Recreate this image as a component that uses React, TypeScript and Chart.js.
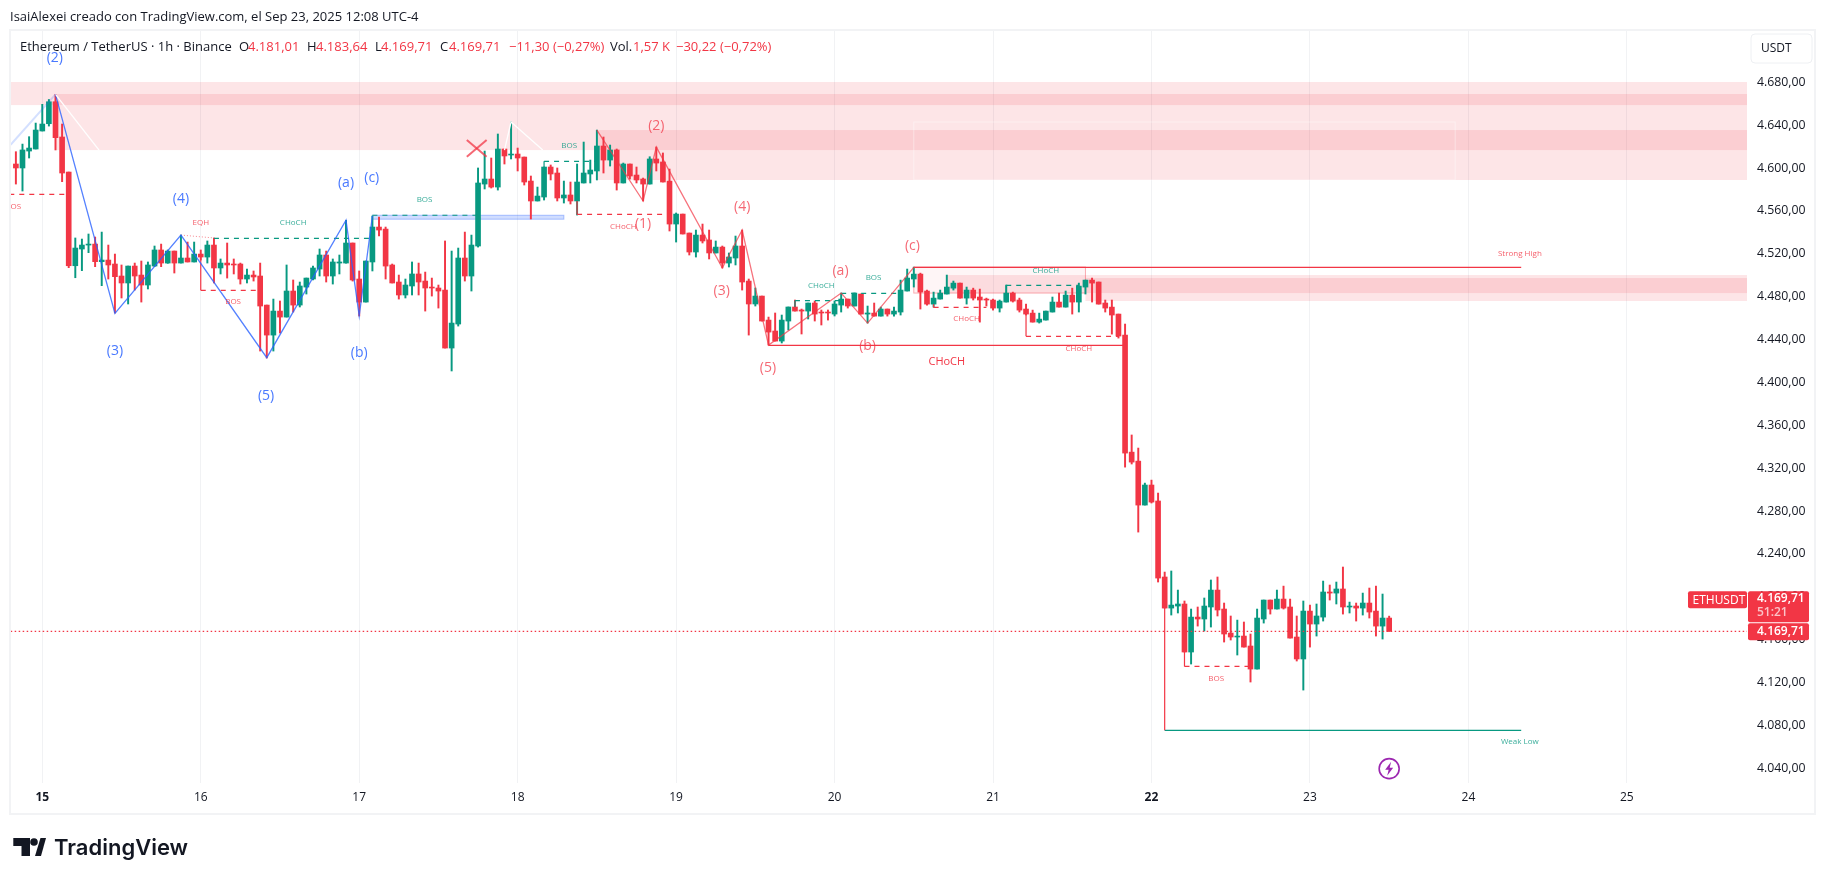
import React, { useEffect, useRef } from 'react';
import { Chart, registerables } from 'chart.js';

Chart.register(...registerables);

const FONT = '"Open Sans", sans-serif';
const RED = '#f23645';
const GREEN = '#089981';

// hour 0 is Sep 15 00:00, one candle per hour
const firstHour = -4;

const candleOpen = [
  4603.8, 4600.1, 4615.9, 4617.8, 4634.6, 4641.4, 4661.9, 4629, 4596.3, 4508.9,
  4524.5, 4528.2, 4529.1, 4512.7, 4514.2, 4510.5, 4499.3, 4492.8, 4508.6, 4500.2,
  4490.9, 4508.6, 4523.6, 4511.4, 4522.6, 4511.4, 4516.1, 4512.4, 4519.8, 4517,
  4528.2, 4506.8, 4511.4, 4510.5, 4510.5, 4496.5, 4500.2, 4499.3, 4472.2, 4444.2,
  4466.6, 4461, 4485.3, 4472.2, 4489, 4496.5, 4505.8, 4518.9, 4499.3, 4511.4,
  4511.4, 4530.1, 4496.5, 4475, 4512.4, 4545, 4543.1, 4509.6, 4493.7, 4481.6,
  4490, 4501.2, 4494.6, 4489, 4488.1, 4486.2, 4432.1, 4454.5, 4516.1, 4499.3,
  4527.3, 4585.1, 4589.8, 4582.3, 4617.8, 4612.2, 4613.1, 4610.3, 4587.9, 4569.3,
  4573, 4601, 4595.4, 4572.1, 4574.9, 4569.3, 4586.1, 4594.5, 4597.3, 4620.6,
  4607.5, 4616.9, 4586.1, 4603.8, 4593.5, 4589.8, 4585.1, 4608.5, 4605.7, 4587.9,
  4547.8, 4557.1, 4539.4, 4521.7, 4537.5, 4532.9, 4520.8, 4526.3, 4511.4, 4516.1,
  4527.3, 4494.6, 4473.2, 4480.6, 4458.2, 4448, 4438.6, 4457.3, 4470.4, 4467.6,
  4466.6, 4474.1, 4465.7, 4465.7, 4463.8, 4472.2, 4477.8, 4471.3, 4482.5, 4463.8,
  4464.7, 4461.9, 4468.5, 4463.8, 4465.7, 4485.3, 4496.5, 4501.1, 4485.3, 4473.1,
  4477.8, 4482.5, 4488, 4492.7, 4478.7, 4486.2, 4479.7, 4477.8, 4476.9, 4469.4,
  4475, 4483.4, 4476.9, 4468.5, 4464.7, 4456.3, 4458.2, 4465.7, 4475, 4470.3,
  4481.5, 4475, 4489, 4495.5, 4493.7, 4474.1, 4470.3, 4463.8, 4444.2, 4335,
  4326.6, 4285.6, 4304.3, 4289.4, 4218.5, 4189.5, 4191.4, 4193.3, 4148.5, 4181.1,
  4179.3, 4190.5, 4206.3, 4188.6, 4166.2, 4162.5, 4163.4, 4154.1, 4132.6, 4179.3,
  4197, 4188.6, 4197.9, 4190.5, 4162.5, 4142, 4186.7, 4174.6, 4181.1, 4204.5,
  4203.5, 4207.3, 4190.5, 4191.4, 4189.5, 4194.2, 4186.7, 4172.7, 4180.2,
];

const candleHigh = [
  4615.3, 4622.4, 4629.3, 4642, 4659.5, 4664, 4668.8, 4641.1, 4596.3, 4534.8,
  4533.8, 4538.5, 4535.7, 4540.3, 4528.2, 4519.8, 4509.6, 4508.6, 4511.4, 4513.3,
  4512.4, 4527.3, 4529.1, 4523.6, 4522.6, 4537.5, 4531, 4531, 4523.6, 4532,
  4534.8, 4515.2, 4530.1, 4515.2, 4511.4, 4505.8, 4504, 4511.4, 4472.2, 4477.8,
  4476, 4509.6, 4495.6, 4493.7, 4497.4, 4508.6, 4524.5, 4522.6, 4515.2, 4518.9,
  4551.2, 4530.1, 4504, 4513.3, 4555.3, 4554.3, 4545, 4510.5, 4500.2, 4496.5,
  4512.4, 4511.4, 4503, 4497.4, 4490.9, 4532, 4522.6, 4525.4, 4540.3, 4537.5,
  4600.1, 4615.9, 4609.4, 4631.8, 4617.8, 4643, 4618.7, 4610.3, 4592.6, 4582.3,
  4601, 4602.9, 4600.1, 4587.9, 4587, 4603.8, 4624.3, 4607.5, 4635.5, 4629,
  4621.5, 4617.8, 4604.7, 4603.8, 4601, 4590.7, 4610.6, 4619.6, 4614.1, 4599.1,
  4558.1, 4557.1, 4539.4, 4542.2, 4547.8, 4542.2, 4532, 4527.3, 4520.8, 4536.6,
  4542.2, 4496.5, 4488.1, 4480.6, 4461, 4464.8, 4462.9, 4470.4, 4476.9, 4468.5,
  4474.1, 4476, 4467.6, 4467.6, 4476, 4483.4, 4477.8, 4483.4, 4482.5, 4471.3,
  4474.1, 4470.3, 4468.5, 4470.3, 4495.5, 4505.8, 4507.6, 4502, 4486.2, 4484.3,
  4486.2, 4500.2, 4494.6, 4492.7, 4489, 4488, 4487.1, 4478.7, 4477.8, 4476.9,
  4490.9, 4484.3, 4478.7, 4473.1, 4467.5, 4464.7, 4466.6, 4479.7, 4483.4, 4485.3,
  4488, 4492.7, 4495.5, 4497.4, 4493.7, 4476.9, 4476.9, 4463.8, 4454.5, 4351,
  4338.8, 4306.1, 4308.9, 4296.8, 4223.1, 4224.1, 4206.3, 4196.1, 4188.6, 4190.5,
  4198.9, 4215.7, 4218.5, 4194.2, 4182.1, 4178.3, 4176.5, 4165.3, 4188.6, 4197,
  4197, 4206.3, 4210, 4197.9, 4182.1, 4196.1, 4192.3, 4193.3, 4214.7, 4211,
  4213.8, 4227.8, 4195.1, 4194.2, 4203.5, 4208.2, 4210, 4202.6, 4182,
];

const candleLow = [
  4585.1, 4578.6, 4609.4, 4617.8, 4634.6, 4639.2, 4616.9, 4587.3, 4507.1, 4497.7,
  4504.3, 4521.1, 4508, 4490.3, 4496.5, 4464.8, 4478.8, 4473.2, 4486.2, 4475,
  4487.2, 4508, 4508, 4511.1, 4502.1, 4511.4, 4512.4, 4512.4, 4514.2, 4511.4,
  4492.8, 4501.2, 4497.4, 4501.2, 4491.8, 4492.8, 4494.6, 4429.3, 4422.8, 4429.3,
  4446.1, 4461, 4465.7, 4470.4, 4482.5, 4495.6, 4499.3, 4493.7, 4491.8, 4501.2,
  4511.4, 4494.6, 4462, 4475, 4504, 4536.6, 4496.5, 4492.8, 4477.8, 4478.8,
  4481.6, 4481.6, 4466.6, 4480.6, 4469.4, 4432.1, 4410.7, 4452.6, 4494.6, 4485.3,
  4526.3, 4580.5, 4581.4, 4579.5, 4603.8, 4608.5, 4597.3, 4584.2, 4552.5, 4569.3,
  4570.2, 4588.9, 4569.3, 4567.4, 4566.5, 4556.2, 4586.1, 4586.1, 4588.9, 4595.4,
  4601.9, 4579.5, 4586.1, 4589.8, 4586.1, 4569.3, 4585.1, 4597.3, 4587, 4541.3,
  4531, 4538.5, 4518.9, 4517, 4530.1, 4515.2, 4520.8, 4506.8, 4507.7, 4509.6,
  4486.2, 4444.2, 4471.3, 4457.3, 4434.9, 4438.6, 4436.8, 4448.9, 4466.6, 4445.2,
  4459.2, 4457.3, 4453.6, 4458.2, 4462, 4465.7, 4469.4, 4471.3, 4463.8, 4455.4,
  4461.9, 4461.9, 4461.9, 4461.9, 4462.9, 4485.3, 4489, 4468.5, 4472.2, 4470.3,
  4477.8, 4482.5, 4486.2, 4478.7, 4473.1, 4476.9, 4456.3, 4471.3, 4467.5, 4465.7,
  4475, 4475, 4465.7, 4462.9, 4456.3, 4455.4, 4458.2, 4465.7, 4470.3, 4470.3,
  4463.8, 4465.7, 4482.5, 4475, 4473.1, 4465.7, 4445.1, 4441.4, 4321, 4323.9,
  4260.4, 4285.6, 4287.5, 4213.8, 4189.5, 4183, 4184.9, 4148.5, 4137.3, 4172.7,
  4168.1, 4171.8, 4182.1, 4157.8, 4159.7, 4145.7, 4153.1, 4120.5, 4132.6, 4175.5,
  4183.9, 4188.6, 4188.6, 4161.5, 4140.1, 4113, 4153.1, 4163.4, 4177.4, 4197,
  4193.3, 4183.9, 4184.9, 4177.4, 4183, 4180.2, 4163.4, 4160.6, 4167.8,
];

const candleClose = [
  4600.1, 4616.9, 4618.7, 4635.5, 4641.1, 4661.9, 4628.4, 4595.4, 4508.9, 4525.4,
  4528.2, 4529.1, 4512.7, 4514.2, 4509.6, 4498.7, 4492.8, 4508.6, 4499.3, 4490.9,
  4509.6, 4523.6, 4511.4, 4522.6, 4511.4, 4516.1, 4512.4, 4519.8, 4517, 4528.2,
  4506.8, 4511.4, 4509.6, 4509.6, 4496.5, 4500.2, 4498.4, 4471.3, 4444.2, 4466.6,
  4461, 4485.3, 4472.2, 4490, 4497.4, 4506.8, 4518.9, 4499.3, 4512.4, 4512.4,
  4530.1, 4495.6, 4475, 4513.3, 4545, 4542.2, 4508.6, 4492.8, 4481.6, 4490.9,
  4501.2, 4493.7, 4488.1, 4488.1, 4485.3, 4432.1, 4455.4, 4516.1, 4499.3, 4528.2,
  4586.1, 4589.8, 4582.3, 4617.8, 4611.3, 4613.1, 4609.4, 4587, 4569.3, 4573.9,
  4601, 4594.5, 4572.1, 4574.9, 4569.3, 4587, 4595.4, 4598.2, 4620.6, 4607.5,
  4616.9, 4586.1, 4603.8, 4592.6, 4588.9, 4585.1, 4608.5, 4604.7, 4587, 4547.8,
  4557.1, 4538.5, 4521.7, 4537.5, 4532, 4520.8, 4526.3, 4511.4, 4517, 4527.3,
  4493.7, 4473.2, 4480.6, 4457.3, 4447, 4438.6, 4458.2, 4470.4, 4466.6, 4466.6,
  4474.1, 4463.8, 4464.8, 4464.8, 4473.2, 4477.8, 4471.3, 4483.4, 4463.8, 4464.8,
  4461.9, 4468.5, 4463.8, 4466.6, 4486.2, 4497.4, 4501.1, 4484.3, 4473.1, 4478.7,
  4483.4, 4489, 4492.7, 4478.7, 4486.2, 4478.7, 4476.9, 4476.9, 4469.4, 4475.9,
  4483.4, 4475.9, 4467.5, 4463.8, 4456.3, 4459.1, 4466.6, 4475, 4470.3, 4481.5,
  4475, 4489.9, 4495.5, 4492.7, 4473.1, 4469.4, 4462.9, 4443.3, 4334.1, 4325.7,
  4285.6, 4304.3, 4288.4, 4217.5, 4189.5, 4192.3, 4193.3, 4148.5, 4181.1, 4179.3,
  4191.4, 4206.3, 4187.7, 4165.3, 4162.5, 4163.4, 4153.1, 4132.6, 4180.2, 4197,
  4188.6, 4197.9, 4189.5, 4161.5, 4142, 4186.7, 4174.6, 4182.1, 4204.5, 4203.5,
  4207.3, 4190.5, 4191.4, 4189.5, 4194.2, 4185.8, 4172.7, 4180.2, 4167.8,
];

const dayHours = [0, 24, 48, 72, 96, 120, 144, 168, 192, 216, 240];
const dayLabels = ['15', '16', '17', '18', '19', '20', '21', '22', '23', '24', '25'];
const mondayLabels = ['15', '22'];
const priceTicks = [
  4040, 4080, 4120, 4160, 4200, 4240, 4280, 4320, 4360, 4400, 4440, 4480, 4520, 4560, 4600, 4640, 4680,
];

// [hour, price] vertices of the drawings
const blueWave = [[2, 4668.8], [11, 4464.5], [21, 4537.5], [34, 4423.1], [46, 4551.3], [48, 4462], [50, 4555.3]];
const redWave = [
  [84, 4635.5], [91, 4569.3], [93, 4619.6], [103, 4506.8], [106, 4542.2], [110, 4434.9],
  [121, 4483.4], [125, 4455.4], [132, 4507.3],
];
const fadedBlueLeg = [[-4.8, 4621.8], [2, 4668.8]];
const whiteLegs = [
  [[2, 4668.8], [8.6, 4616.8]],
  [[70, 4616.8], [71, 4643], [75.8, 4616.8]],
];
const crossMark = [
  [[64.3, 4626.2], [67.3, 4610.6]],
  [[67.3, 4626.2], [64.3, 4610.6]],
];
const eqhLine = [[21, 4537.5], [26, 4534.8]];
const chochLine = [[110, 4434.6], [164, 4434.6]];
const strongHighLine = [[132, 4507.3], [224, 4507.3]];
const weakLowStem = [[170, 4189.5], [170, 4075.4]];
const weakLowLine = [[170, 4075.4], [224, 4075.4]];

// [startHour, endHour, price, price the short solid stem starts from]
const redDashes = [
  [-5, 3.7, 4575.5, 4575.5],
  [24, 32.5, 4486, 4517],
  [81, 95, 4556.8, 4569.3],
  [135, 143, 4470, 4473],
  [149, 163, 4443, 4463.8],
  [173, 183, 4135.1, 4148.5],
];
const tealDashes = [
  [26, 49.5, 4534.5, 4534.5],
  [50, 66, 4556, 4556],
  [76, 84, 4606.3, 4601],
  [114, 121, 4476.3, 4470.4],
  [121, 130, 4483.1, 4483.1],
  [146, 157, 4490.5, 4483.4],
];

// [startHour, endHour, topPrice, bottomPrice]
const supplyZones = [
  [-5, 259, 4680.3, 4658.8],
  [2, 259, 4669.1, 4616.8],
  [84, 259, 4635.5, 4588.9],
  [137, 259, 4500.2, 4483.4],
  [158, 259, 4497.4, 4476],
];
const faintZone = [132, 158, 4507.7, 4483.4];
const whiteOutline = [132, 214, 4643, 4588.9];
const blueBox = [50, 79, 4556, 4552.3];

// [text, hour, price]
const blueWaveLabels = [
  ['(2)', 1.9, 4702.7], ['(3)', 11, 4429.3], ['(4)', 21, 4571.1], ['(5)', 33.9, 4387.3],
  ['(a)', 46, 4585.8], ['(b)', 48, 4427.2], ['(c)', 49.9, 4590.7],
];
const redWaveLabels = [
  ['(2)', 93, 4639.2], ['(1)', 91, 4547.5], ['(4)', 106, 4563.4], ['(3)', 102.9, 4485.3],
  ['(5)', 109.9, 4413.2], ['(a)', 120.9, 4503.7], ['(b)', 125, 4434], ['(c)', 131.8, 4527.3],
];
const redSmallLabels = [
  ['BOS', -4.4, 4563.7], ['EQH', 24, 4548.7], ['BOS', 28.9, 4475], ['CHoCH', 88, 4545],
  ['CHoCH', 140, 4459.2], ['CHoCH', 157, 4431.2], ['BOS', 177.8, 4123.3], ['Strong High', 223.8, 4520.5],
];
const tealSmallLabels = [
  ['CHoCH', 38, 4548.7], ['BOS', 57.9, 4570.3], ['BOS', 79.8, 4620.6], ['CHoCH', 118, 4490],
  ['BOS', 125.9, 4497.4], ['CHoCH', 152, 4504.2], ['Weak Low', 223.8, 4064.5],
];
const bigChochLabel = ['CHoCH', 137, 4419.1];
const flashIcon = [204, 4039.7];

const lastClose = 4167.8;
const lastPriceText = '4.169,71';
const countdownText = '51:21';
const symbolTag = 'ETHUSDT';
const currencyText = 'USDT';
const authorLine = 'IsaiAlexei creado con TradingView.com, el Sep 23, 2025 12:08 UTC-4';
const brandName = 'TradingView';

// legend row: [text, x, is it a red value]
const legendRow = [
  ['Ethereum / TetherUS · 1h · Binance', 20, false],
  ['O', 239, false], ['4.181,01', 248, true],
  ['H', 307, false], ['4.183,64', 316, true],
  ['L', 375, false], ['4.169,71', 381, true],
  ['C', 440, false], ['4.169,71', 449, true],
  ['−11,30 (−0,27%)', 509, true],
  ['Vol.', 610, false], ['1,57 K', 633, true],
  ['−30,22 (−0,72%)', 676, true],
];

const toPoints = (list: number[][]) => list.map(([x, y]) => ({ x, y }));

const lineSet = (points: number[][], color: string, width = 1.2, dash: number[] = []) => ({
  type: 'line',
  data: toPoints(points),
  borderColor: color,
  borderWidth: width,
  borderDash: dash,
  pointRadius: 0,
  tension: 0,
  order: 1,
});

const candleColors = candleClose.map((c, i) => (c >= candleOpen[i] ? GREEN : RED));

const buildDatasets = () => {
  const hours = candleClose.map((_, i) => firstHour + i);
  const sets: any[] = [
    {
      type: 'bar',
      data: hours.map((x, i) => ({ x, y: [candleLow[i], candleHigh[i]] })),
      backgroundColor: candleColors,
      barThickness: 1.3,
      grouped: false,
      order: 6,
    },
    {
      type: 'bar',
      data: hours.map((x, i) => ({ x, y: [candleOpen[i], candleClose[i]] })),
      backgroundColor: candleColors,
      barThickness: 5,
      grouped: false,
      order: 5,
    },
    lineSet(fadedBlueLeg, 'rgba(41,98,255,0.2)', 2),
    lineSet(whiteLegs[0], '#ffffff', 1.3),
    lineSet(whiteLegs[1], '#ffffff', 1.3),
    lineSet(blueWave, 'rgba(41,98,255,0.8)', 1.3),
    lineSet(redWave, 'rgba(242,54,69,0.7)', 1.3),
    lineSet(crossMark[0], 'rgba(242,54,69,0.75)', 2),
    lineSet(crossMark[1], 'rgba(242,54,69,0.75)', 2),
    lineSet(eqhLine, 'rgba(242,54,69,0.6)', 1, [1, 2]),
    lineSet(chochLine, RED),
    lineSet(strongHighLine, RED),
    lineSet(weakLowStem, RED),
    lineSet(weakLowLine, GREEN),
    lineSet([[firstHour - 2, lastClose], [259, lastClose]], RED, 1.3, [1.5, 2.5]),
  ];
  redDashes.forEach(([h0, h1, p, stem]) => {
    sets.push(lineSet([[h0, p], [h1, p]], RED, 1.2, [5, 5]));
    if (stem !== p) sets.push(lineSet([[h0, stem], [h0, p]], RED, 1.2));
  });
  tealDashes.forEach(([h0, h1, p, stem]) => {
    sets.push(lineSet([[h0, p], [h1, p]], GREEN, 1.2, [5, 5]));
    if (stem !== p) sets.push(lineSet([[h0, stem], [h0, p]], GREEN, 1.2));
  });
  return sets;
};

const roundRect = (ctx: CanvasRenderingContext2D, x: number, y: number, w: number, h: number, r: number) => {
  ctx.beginPath();
  ctx.roundRect(x, y, w, h, r);
};

const drawBand = (chart: any, band: number[], fill: string | null, stroke?: string) => {
  const { ctx, scales } = chart;
  const x0 = scales.x.getPixelForValue(band[0]);
  const x1 = scales.x.getPixelForValue(band[1]);
  const y0 = scales.y.getPixelForValue(band[2]);
  const y1 = scales.y.getPixelForValue(band[3]);
  if (fill) {
    ctx.fillStyle = fill;
    ctx.fillRect(x0, y0, x1 - x0, y1 - y0);
  }
  if (stroke) {
    ctx.strokeStyle = stroke;
    ctx.lineWidth = 1;
    ctx.strokeRect(x0, y0, x1 - x0, y1 - y0);
  }
};

const drawLabels = (chart: any, list: any[], font: string, color: string) => {
  const { ctx, scales } = chart;
  ctx.font = font;
  ctx.fillStyle = color;
  ctx.textAlign = 'center';
  ctx.textBaseline = 'middle';
  list.forEach(([text, h, p]) => {
    ctx.fillText(text, scales.x.getPixelForValue(h), scales.y.getPixelForValue(p));
  });
};

const zonesPlugin = {
  id: 'zones',
  beforeDraw(chart: any) {
    const { ctx, width, height } = chart;
    ctx.save();
    ctx.fillStyle = '#ffffff';
    ctx.fillRect(0, 0, width, height);
    ctx.strokeStyle = '#f2f3f5';
    ctx.lineWidth = 2;
    ctx.strokeRect(10, 30, 1805, 784);
    ctx.restore();
  },
  beforeDatasetsDraw(chart: any) {
    const { ctx, chartArea } = chart;
    ctx.save();
    ctx.beginPath();
    ctx.rect(chartArea.left, chartArea.top, chartArea.width, chartArea.height);
    ctx.clip();
    supplyZones.forEach((z) => drawBand(chart, z, 'rgba(242,54,69,0.13)'));
    drawBand(chart, faintZone, 'rgba(242,54,69,0.05)', 'rgba(242,54,69,0.4)');
    drawBand(chart, whiteOutline, null, 'rgba(255,255,255,0.4)');
    drawBand(chart, blueBox, 'rgba(41,98,255,0.22)', 'rgba(41,98,255,0.35)');
    ctx.restore();
  },
  afterDraw(chart: any) {
    const { ctx, chartArea, scales } = chart;
    ctx.save();
    ctx.beginPath();
    ctx.rect(chartArea.left, chartArea.top, chartArea.width, chartArea.height);
    ctx.clip();
    drawLabels(chart, blueWaveLabels, `14px ${FONT}`, 'rgba(41,98,255,0.85)');
    drawLabels(chart, redWaveLabels, `14px ${FONT}`, 'rgba(242,54,69,0.75)');
    drawLabels(chart, redSmallLabels, `8px ${FONT}`, 'rgba(242,54,69,0.8)');
    drawLabels(chart, tealSmallLabels, `8px ${FONT}`, 'rgba(8,153,129,0.8)');
    drawLabels(chart, [bigChochLabel], `11px ${FONT}`, RED);

    // flash icon near the bottom of the plot
    const fx = scales.x.getPixelForValue(flashIcon[0]);
    const fy = scales.y.getPixelForValue(flashIcon[1]);
    ctx.strokeStyle = '#9c27b0';
    ctx.lineWidth = 1.6;
    ctx.beginPath();
    ctx.arc(fx, fy, 10, 0, Math.PI * 2);
    ctx.stroke();
    ctx.fillStyle = '#9c27b0';
    ctx.beginPath();
    ctx.moveTo(fx + 2, fy - 7);
    ctx.lineTo(fx - 4, fy + 1);
    ctx.lineTo(fx - 0.5, fy + 1);
    ctx.lineTo(fx - 2, fy + 7);
    ctx.lineTo(fx + 4, fy - 1);
    ctx.lineTo(fx + 0.5, fy - 1);
    ctx.closePath();
    ctx.fill();
    ctx.restore();

    ctx.save();
    ctx.textBaseline = 'middle';
    ctx.textAlign = 'left';

    // author line and legend
    ctx.font = `13px ${FONT}`;
    ctx.fillStyle = '#131722';
    ctx.fillText(authorLine, 10, 17);
    legendRow.forEach(([text, x, isValue]: any) => {
      ctx.fillStyle = isValue ? RED : '#131722';
      ctx.fillText(text, x, 47);
    });

    // currency button
    ctx.fillStyle = '#ffffff';
    ctx.strokeStyle = '#eef0f3';
    ctx.lineWidth = 1;
    roundRect(ctx, 1751, 34, 61, 29, 4);
    ctx.fill();
    ctx.stroke();
    ctx.fillStyle = '#131722';
    ctx.font = `12px ${FONT}`;
    ctx.fillText(currencyText, 1761, 48.5);

    // last price tags
    const py = scales.y.getPixelForValue(lastClose);
    ctx.fillStyle = RED;
    roundRect(ctx, 1688, py - 40, 59, 17, 2);
    ctx.fill();
    roundRect(ctx, 1748, py - 40, 61, 31, 2);
    ctx.fill();
    roundRect(ctx, 1748, py - 8, 61, 17, 2);
    ctx.fill();
    ctx.fillStyle = '#ffffff';
    ctx.fillText(symbolTag, 1692.5, py - 31);
    ctx.font = `600 12px ${FONT}`;
    ctx.fillText(lastPriceText, 1757, py - 32.5);
    ctx.fillText(lastPriceText, 1757, py + 0.5);
    ctx.fillStyle = 'rgba(255,255,255,0.7)';
    ctx.fillText(countdownText, 1757, py - 18.5);

    // brand mark
    ctx.fillStyle = '#131722';
    ctx.beginPath();
    ctx.moveTo(13.3, 838);
    ctx.lineTo(30, 838);
    ctx.lineTo(30, 856);
    ctx.lineTo(21.5, 856);
    ctx.lineTo(21.5, 846);
    ctx.lineTo(13.3, 846);
    ctx.closePath();
    ctx.fill();
    ctx.beginPath();
    ctx.arc(34, 842, 3.8, 0, Math.PI * 2);
    ctx.fill();
    ctx.beginPath();
    ctx.moveTo(35, 856);
    ctx.lineTo(40.5, 838);
    ctx.lineTo(46, 838);
    ctx.lineTo(41, 856);
    ctx.closePath();
    ctx.fill();
    ctx.font = `600 22px Inter, ${FONT}`;
    ctx.fillText(brandName, 54, 848);
    ctx.restore();
  },
};

const App: React.FC = () => {
  const canvasRef = useRef<HTMLCanvasElement>(null);

  useEffect(() => {
    const canvas = canvasRef.current;
    if (!canvas) return;

    const chart = new Chart(canvas, {
      type: 'bar',
      data: { datasets: buildDatasets() },
      options: {
        responsive: false,
        animation: false,
        events: [],
        layout: { padding: { left: 11, top: 31, right: 11, bottom: 66 } },
        plugins: { legend: { display: false }, tooltip: { enabled: false } },
        scales: {
          x: {
            type: 'linear',
            min: -4.74,
            max: 258.2,
            offset: false,
            grid: { color: '#f1f2f4', drawTicks: false, offset: false },
            border: { display: false },
            afterBuildTicks: (axis: any) => {
              axis.ticks = dayHours.map((value) => ({ value }));
            },
            afterFit: (axis: any) => {
              axis.height = 31;
            },
            ticks: {
              maxRotation: 0,
              autoSkip: false,
              padding: 7,
              color: '#131722',
              font: (ctx: any) => ({
                family: FONT,
                size: 12,
                weight: mondayLabels.includes(dayLabels[dayHours.indexOf(ctx.tick?.value)]) ? 'bold' : 'normal',
              }),
              callback: (value: any) => dayLabels[dayHours.indexOf(value)],
            },
          },
          y: {
            type: 'linear',
            position: 'right',
            min: 4026.3,
            max: 4727.9,
            grid: { display: false, drawTicks: false },
            border: { display: false },
            afterBuildTicks: (axis: any) => {
              axis.ticks = priceTicks.map((value) => ({ value }));
            },
            afterFit: (axis: any) => {
              axis.width = 68;
            },
            ticks: {
              autoSkip: false,
              padding: 10,
              color: '#131722',
              font: { family: FONT, size: 12.3 },
              callback: (value: any) =>
                Number(value).toLocaleString('de-DE', { minimumFractionDigits: 2, maximumFractionDigits: 2 }),
            },
          },
        },
      },
      plugins: [zonesPlugin],
    } as any);

    return () => {
      chart.destroy();
    };
  }, []);

  return (
    <div style={{ position: 'fixed', left: 0, top: 0, width: 1826, height: 880, background: '#fff' }}>
      <canvas ref={canvasRef} width={1826} height={880} style={{ display: 'block' }} />
    </div>
  );
};

export default App;
